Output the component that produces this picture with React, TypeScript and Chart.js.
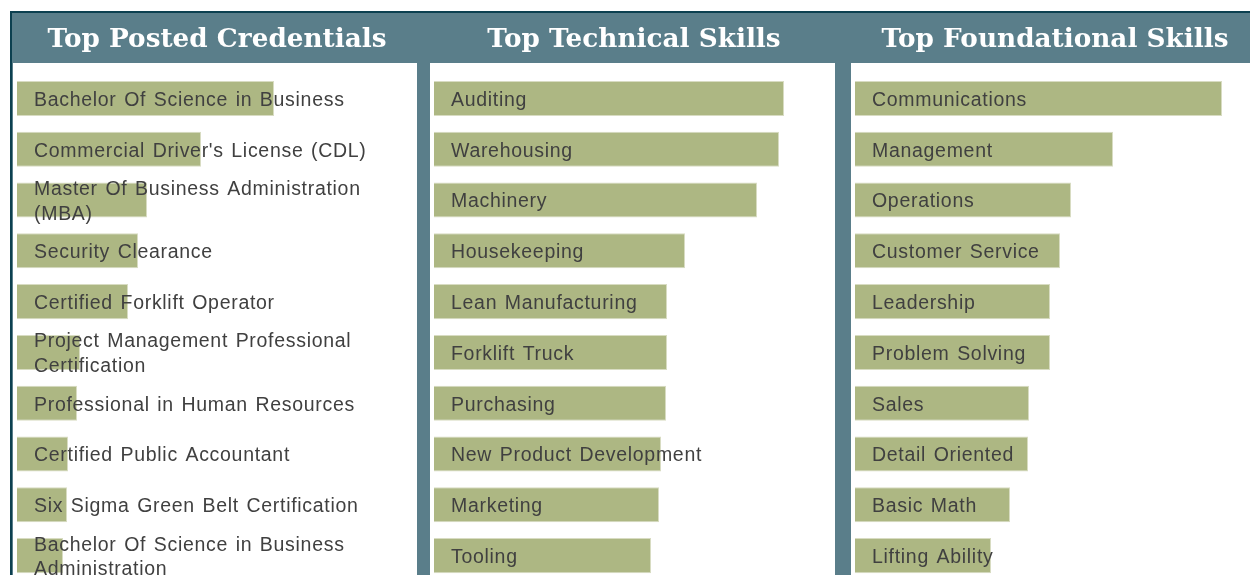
import React, { useEffect, useRef } from "react";
import { Chart, registerables } from "chart.js";

Chart.register(...registerables);

const credentialTitle = "Top Posted Credentials";
const credentialLabels: (string | string[])[] = [
  "Bachelor Of Science in Business",
  "Commercial Driver's License (CDL)",
  ["Master Of Business Administration", "(MBA)"],
  "Security Clearance",
  "Certified Forklift Operator",
  ["Project Management Professional", "Certification"],
  "Professional in Human Resources",
  "Certified Public Accountant",
  "Six Sigma Green Belt Certification",
  ["Bachelor Of Science in Business", "Administration"],
];
const credentialValues = [257, 184, 130, 121, 111, 63, 60, 51, 50, 46];

const technicalTitle = "Top Technical Skills";
const technicalLabels = [
  "Auditing",
  "Warehousing",
  "Machinery",
  "Housekeeping",
  "Lean Manufacturing",
  "Forklift Truck",
  "Purchasing",
  "New Product Development",
  "Marketing",
  "Tooling",
];
const technicalValues = [350, 345, 323, 251, 233, 233, 232, 227, 225, 217];

const foundationalTitle = "Top Foundational Skills";
const foundationalLabels = [
  "Communications",
  "Management",
  "Operations",
  "Customer Service",
  "Leadership",
  "Problem Solving",
  "Sales",
  "Detail Oriented",
  "Basic Math",
  "Lifting Ability",
];
const foundationalValues = [367, 258, 216, 205, 195, 195, 174, 173, 155, 136];

const TEAL = "#5a7e8a";
const DARK = "#0c4050";
const BAR = "#adb783";

const spacingPlugin = {
  id: "labelSpacing",
  beforeDraw(chart: any) {
    const ctx = chart.ctx as any;
    ctx.letterSpacing = "0px";
    ctx.wordSpacing = "0px";
  },
  afterDatasetsDraw(chart: any) {
    const ctx = chart.ctx as any;
    ctx.letterSpacing = "0.7px";
    ctx.wordSpacing = "1.5px";
  },
  afterDraw(chart: any) {
    const ctx = chart.ctx as any;
    ctx.letterSpacing = "0px";
    ctx.wordSpacing = "0px";
  },
};

function Panel({ title, labels, values, left }: { title: string; labels: any[]; values: number[]; left: number }) {
  const ref = useRef<HTMLCanvasElement | null>(null);
  useEffect(() => {
    if (!ref.current) return;
    const chart = new Chart(ref.current, {
      type: "bar",
      data: {
        labels,
        datasets: [
          {
            data: values,
            backgroundColor: BAR,
            borderColor: "#d8dcc2",
            borderWidth: 1,
            barPercentage: 0.69,
            categoryPercentage: 1,
          },
        ],
      },
      options: {
        indexAxis: "y",
        responsive: true,
        maintainAspectRatio: false,
        animation: false,
        layout: { padding: { left: 4, right: 0, top: 11, bottom: 12 } },
        plugins: {
          legend: { display: false },
          tooltip: { enabled: false },
          title: {
            display: true,
            text: title,
            color: "#ffffff",
            font: { family: "'DejaVu Serif', serif", size: 26.3, weight: "bold", lineHeight: 1.2 },
            padding: { top: 0, bottom: 17.5 },
          },
        },
        scales: {
          x: { display: false, min: 0, max: 400 },
          y: {
            position: "left",
            grid: { display: false, drawTicks: false },
            border: { display: false },
            ticks: {
              z: 1,
              autoSkip: false,
              mirror: true,
              padding: 17,
              labelOffset: 2,
              color: "#404040",
              font: { family: "'Liberation Sans', Arial, sans-serif", size: 19.5, lineHeight: 1.27 },
            },
            afterFit: (s: any) => {
              s.width = 0;
              s.paddingTop = 0;
              s.paddingBottom = 0;
            },
          },
        },
      } as any,
      plugins: [spacingPlugin],
    });
    return () => chart.destroy();
  }, []);
  return (
    <div style={{ position: "absolute", left, top: 13, width: 404, height: 580 }}>
      <canvas ref={ref} />
    </div>
  );
}

export default function App() {
  return (
    <div
      style={{
        position: "absolute",
        left: 0,
        top: 0,
        width: 1250,
        height: 575,
        overflow: "hidden",
        background: "#ffffff",
      }}
    >
      <div style={{ position: "absolute", left: 10, top: 11, width: 1240, height: 564, background: DARK }} />
      <div style={{ position: "absolute", left: 12, top: 13, width: 1238, height: 562, background: TEAL }} />
      <div style={{ position: "absolute", left: 13, top: 63, width: 404, height: 512, background: "#fff" }} />
      <div style={{ position: "absolute", left: 430, top: 63, width: 405, height: 512, background: "#fff" }} />
      <div style={{ position: "absolute", left: 851, top: 63, width: 399, height: 512, background: "#fff" }} />
      <Panel title={credentialTitle} labels={credentialLabels} values={credentialValues} left={13} />
      <Panel title={technicalTitle} labels={technicalLabels} values={technicalValues} left={430} />
      <Panel title={foundationalTitle} labels={foundationalLabels} values={foundationalValues} left={851} />
    </div>
  );
}
